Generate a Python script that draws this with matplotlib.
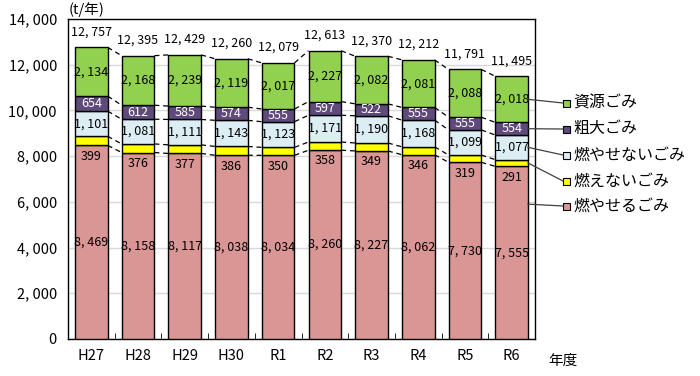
import matplotlib
matplotlib.use("Agg")
import matplotlib.pyplot as plt
import numpy as np

plt.rcParams['font.family'] = ['Noto Sans CJK JP', 'DejaVu Sans']

years = ['H27', 'H28', 'H29', 'H30', 'R1', 'R2', 'R3', 'R4', 'R5', 'R6']
moyaseru = [8469, 8158, 8117, 8038, 8034, 8260, 8227, 8062, 7730, 7555]
moenai = [399, 376, 377, 386, 350, 358, 349, 346, 319, 291]
moyasenai = [1101, 1081, 1111, 1143, 1123, 1171, 1190, 1168, 1099, 1077]
sodai = [654, 612, 585, 574, 555, 597, 522, 555, 555, 554]
shigen = [2134, 2168, 2239, 2119, 2017, 2227, 2082, 2081, 2088, 2018]
totals = [12757, 12395, 12429, 12260, 12079, 12613, 12370, 12212, 11791, 11495]

names = ['燃やせるごみ', '燃えないごみ', '燃やせないごみ', '粗大ごみ', '資源ごみ']
colors = ['#D99694', '#FFFF00', '#DCEEF4', '#604A7B', '#92D050']
series = [moyaseru, moenai, moyasenai, sodai, shigen]


def fmt(v):
    return f'{v:,}'.replace(',', ', ')


fig = plt.figure(figsize=(7.0, 3.76), dpi=100)
ax = fig.add_axes([68/700, 1-339/376, 467/700, 320/376])

x = np.arange(len(years))
w = 0.7
bottom = np.zeros(len(years))
levels = []
for vals, c in zip(series, colors):
    vals = np.array(vals)
    ax.bar(x, vals, w, bottom=bottom, color=c, edgecolor='black', linewidth=1, zorder=3)
    bottom = bottom + vals
    levels.append(bottom.copy())

# dashed connectors between bars
for lev in levels:
    for i in range(len(years) - 1):
        ax.plot([i + w/2, i + 1 - w/2], [lev[i], lev[i+1]], color='black',
                linestyle=(0, (4, 3)), linewidth=0.9, zorder=2)

# labels
base = np.zeros(len(years))
for k, vals in enumerate(series):
    vals = np.array(vals)
    for i in range(len(years)):
        if k == 1:
            ax.text(x[i], base[i] - 470, str(vals[i]), ha='center', va='center',
                    fontsize=9, zorder=5)
        else:
            col = 'white' if k == 3 else 'black'
            ax.text(x[i], base[i] + vals[i]/2, fmt(vals[i]), ha='center', va='center',
                    fontsize=9, color=col, zorder=5)
    base = base + vals

for i, t in enumerate(totals):
    ax.text(x[i], t + 680, fmt(t), ha='center', va='center', fontsize=9)

ax.set_xlim(-0.5, len(years) - 0.5)
ax.set_ylim(0, 14000)
ax.set_yticks(np.arange(0, 14001, 2000))
ax.set_yticklabels([fmt(v) for v in range(0, 14001, 2000)], fontsize=10.5)
ax.set_xticks(x)
ax.set_xticklabels(years, fontsize=10.5)
ax.set_xticks(np.arange(0.5, len(years) - 1, 1), minor=True)
ax.tick_params(axis='x', which='major', length=0, pad=7)
ax.tick_params(axis='x', which='minor', direction='in', length=4)
ax.tick_params(axis='y', length=0, pad=8)
ax.grid(axis='y', color='#d9d9d9', linewidth=1, zorder=0)
ax.set_axisbelow(True)
for s in ax.spines.values():
    s.set_color('black')
    s.set_linewidth(1)

fig.text(87/700, 1 - 10/376, '(t/年)', ha='center', va='center', fontsize=10.5)
fig.text(563/700, 1 - 361/376, '年度', ha='center', va='center', fontsize=10.5)

# legend with leader lines
leg_y = [206, 181, 155, 129, 103]  # pixel rows of legend entries
start_vals = [5900, None, None, None, None]
base = np.zeros(len(years))
for k, (vals, c) in enumerate(zip(series, colors)):
    last = len(years) - 1
    y0 = start_vals[k] if start_vals[k] is not None else base[last] + vals[last]/2
    base = base + np.array(vals)
    xd, yd = ax.transData.transform((last + w/2, y0))
    fx0, fy0 = xd / 700, yd / 376
    fx1, fy1 = 563/700, 1 - leg_y[k]/376
    fig.add_artist(plt.Line2D([fx0, fx1], [fy0, fy1], color='#404040', linewidth=0.9))
    fig.add_artist(plt.Rectangle((fx1, fy1 - 3.5/376), 7/700, 7/376, facecolor=c,
                                 edgecolor='black', linewidth=0.8))
    fig.text(573/700, fy1, names[k], ha='left', va='center', fontsize=11.5)

fig.savefig('out.png', dpi=100)
